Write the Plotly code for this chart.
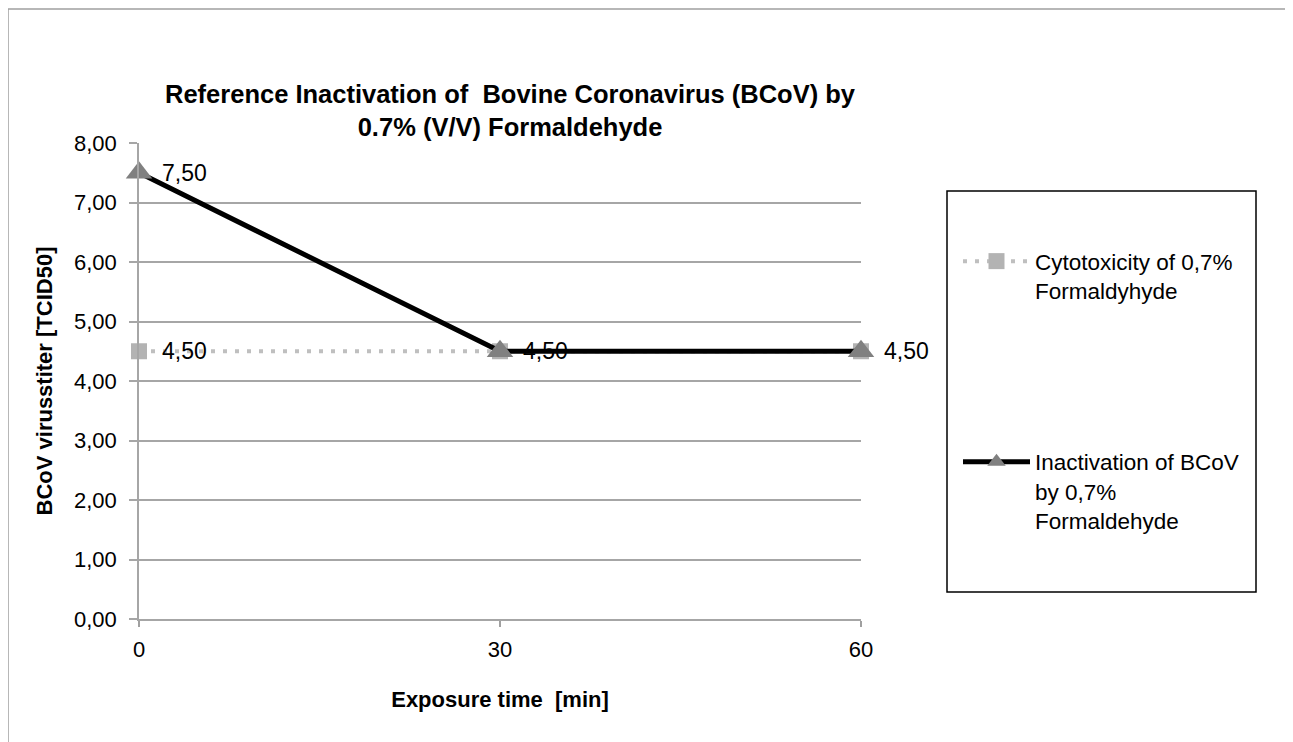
import plotly.graph_objects as go

# ---- data ----
exposure_min = [0, 30, 60]
cytotoxicity = [4.5, 4.5, 4.5]
inactivation = [7.5, 4.5, 4.5]
series_names = ["Cytotoxicity of 0,7%<br>Formaldyhyde",
                "Inactivation of BCoV<br>by 0,7%<br>Formaldehyde"]
y_ticks = [0, 1, 2, 3, 4, 5, 6, 7, 8]
x_ticks = [0, 30, 60]

FONT = "Liberation Sans"
W, H = 1293, 742
OFF = 8  # page body margin
RL, RR, RT, RB = 139, 861, 143, 619  # plot area in reference pixels
L, R, T, B = RL - OFF, RR - OFF, RT - OFF, RB - OFF


def px_x(p):
    return (p - RL) / (RR - RL)


def px_y(p):
    return (RB - p) / (RB - RT)


def fmt(v):
    return f"{v:.2f}".replace(".", ",")


fig = go.Figure()
fig.add_trace(go.Scatter(
    x=exposure_min, y=cytotoxicity, name=series_names[0], legendgroup="a",
    mode="lines+markers", cliponaxis=False,
    line=dict(color="#BFBFBF", width=4, dash="4px,8px"),
    marker=dict(symbol="square", size=16, color="#B3B3B3"),
))
fig.add_trace(go.Scatter(
    x=exposure_min, y=inactivation, name=series_names[1], legendgroup="b",
    mode="lines+markers", cliponaxis=False,
    line=dict(color="#000000", width=5),
    marker=dict(symbol="triangle-up", size=23, color="#808080"),
))

# data labels (right of each point)
seen = set()
for series in (cytotoxicity, inactivation):
    for xv, yv in zip(exposure_min, series):
        if (xv, yv) in seen:
            continue
        seen.add((xv, yv))
        fig.add_annotation(x=xv, y=yv, xref="x", yref="y", text=fmt(yv),
                           showarrow=False, xanchor="left", yanchor="middle",
                           xshift=21, font=dict(family=FONT, size=23, color="#000000"))

# outer chart border and legend box
fig.add_shape(type="rect", xref="paper", yref="paper",
              x0=px_x(8), x1=px_x(1292), y0=px_y(760), y1=px_y(9),
              line=dict(color="#A0A0A0", width=1.5), fillcolor="rgba(0,0,0,0)", layer="below")
fig.add_shape(type="rect", xref="paper", yref="paper",
              x0=px_x(947), x1=px_x(1256), y0=px_y(592), y1=px_y(191),
              line=dict(color="#000000", width=1.5), fillcolor="rgba(0,0,0,0)")

# title
fig.add_annotation(xref="paper", yref="paper", x=px_x(510), y=px_y(110),
                   xanchor="center", yanchor="middle", showarrow=False,
                   text="<b>Reference Inactivation of  Bovine Coronavirus (BCoV) by<br>0.7% (V/V) Formaldehyde</b>",
                   font=dict(family=FONT, size=25.5, color="#000000"))

fig.update_layout(
    width=W, height=H,
    margin=dict(l=L, r=W - R, t=T, b=H - B, pad=0),
    paper_bgcolor="white", plot_bgcolor="white",
    separators=",.",
    showlegend=True,
    legend=dict(x=px_x(958), y=px_y(240), xanchor="left", yanchor="top",
                font=dict(family=FONT, size=22.5, color="#000000"),
                bgcolor="rgba(0,0,0,0)", borderwidth=0,
                tracegroupgap=139, traceorder="grouped", valign="top",
                itemwidth=67),
    font=dict(family=FONT, color="#000000"),
)
fig.update_xaxes(
    range=[0, 60], tickvals=x_ticks, ticktext=[str(v) for v in x_ticks],
    showgrid=False, zeroline=False,
    showline=True, linecolor="#A6A6A6", linewidth=1.5,
    ticks="outside", ticklen=6, tickcolor="#A0A0A0", tickwidth=1.5,
    ticklabelstandoff=4,
    tickfont=dict(family=FONT, size=22, color="#000000"),
    title=dict(text="<b>Exposure time  [min]</b>", font=dict(family=FONT, size=22, color="#000000"), standoff=30),
)
fig.update_yaxes(
    range=[0, 8], tickvals=y_ticks, tickformat=".2f",
    showgrid=True, gridcolor="#A6A6A6", gridwidth=1.5,
    zeroline=False, showline=True, linecolor="#A6A6A6", linewidth=1.5,
    ticks="outside", ticklen=8, tickcolor="#A6A6A6", tickwidth=1.5,
    ticklabelstandoff=8,
    tickfont=dict(family=FONT, size=22, color="#000000"),
    title=dict(text="<b>BCoV virusstiter [TCID50]</b>", font=dict(family=FONT, size=22, color="#000000"), standoff=15),
)

fig.write_html("out.html")
